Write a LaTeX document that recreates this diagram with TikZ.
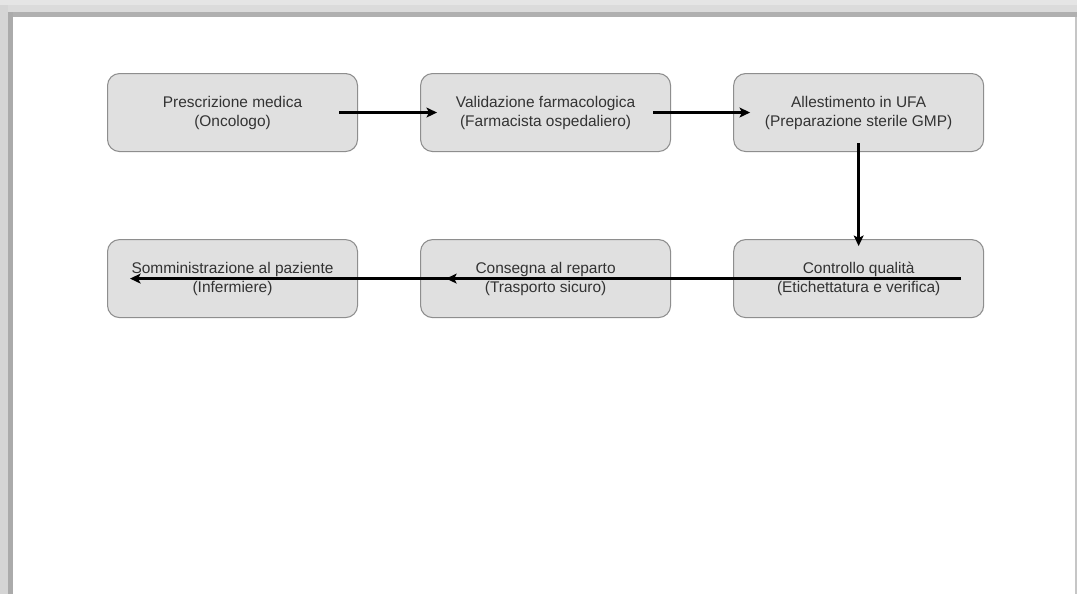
\documentclass[tikz,border=0pt]{standalone}
\usepackage{fontspec}
\setmainfont{Liberation Sans}
\usetikzlibrary{positioning,arrows.meta}
\definecolor{boxfill}{HTML}{E0E0E0}
\definecolor{boxline}{HTML}{8E8E8E}
\definecolor{boxtext}{HTML}{333333}
\tikzset{
  stage box/.style={
    fill=boxfill,
    draw=boxline,
    line width=0.6pt,
    rounded corners=0.24cm,
    minimum width=5cm,
    minimum height=1.56cm,
    inner sep=0pt,
    align=center,
    text=boxtext,
    font=\fontsize{8.8}{10.8}\selectfont,
  },
  flow/.style={
    -{Stealth[length=6pt,width=5.6pt,inset=1.4pt]},
    line width=1.35pt,
    black,
  }
}

\begin{document}
\begin{tikzpicture}[node distance=1.74cm and 1.24cm]
        % page frame
        \fill[white] (0,0) rectangle (21.54,-11.88);
        \fill[gray!20] (0,0) rectangle (21.54,-0.10);
        \fill[gray!28] (0,-0.10) rectangle (21.54,-0.24);
        \fill[gray!62] (0.14,-0.24) rectangle (21.54,-0.33);
        \fill[gray!33] (0,-0.10) rectangle (0.16,-11.88);
        \fill[gray!66] (0.16,-0.24) rectangle (0.25,-11.88);
        \fill[gray!45] (21.50,-0.33) rectangle (21.54,-11.88);
        \useasboundingbox (0,0) rectangle (21.54,-11.88);

        \node [stage box, anchor=north west] (prescr) at (2.14,-1.46)
          {Prescrizione medica\\(Oncologo)};
        \node [stage box, right=of prescr] (valid)
          {Validazione farmacologica\\(Farmacista ospedaliero)};
        \node [stage box, right=of valid] (allest)
          {Allestimento in UFA\\(Preparazione sterile GMP)};
        \node [stage box, below=of allest] (ctrl)
          {Controllo qualità\\(Etichettatura e verifica)};
        \node [stage box, left=of ctrl] (consegna)
          {Consegna al reparto\\(Trasporto sicuro)};
        \node [stage box, left=of consegna] (somm)
          {Somministrazione al paziente\\(Infermiere)};

        \draw [flow] ([xshift=-0.38cm]prescr.east) -- ([xshift=0.34cm]valid.west);
        \draw [flow] ([xshift=-0.36cm]valid.east) -- ([xshift=0.34cm]allest.west);
        \draw [flow] ([yshift=0.18cm]allest.south) -- ([yshift=-0.14cm]ctrl.north);
        \draw [flow] ([xshift=-0.46cm]ctrl.east) -- ([xshift=0.52cm]consegna.west);
        \draw [flow] ([xshift=-0.36cm]consegna.east) -- ([xshift=0.46cm]somm.west);
      \end{tikzpicture}
\end{document}
